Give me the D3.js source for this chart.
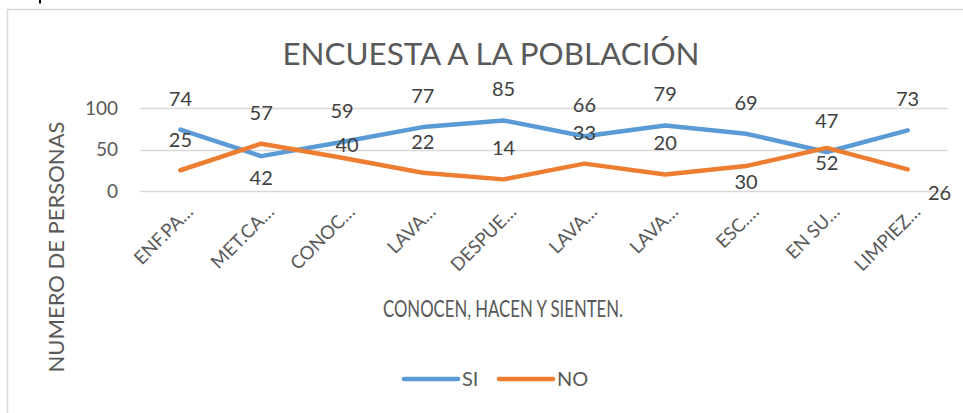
<!DOCTYPE html>
<html>
<head>
<meta charset="utf-8">
<script src="https://cdn.jsdelivr.net/npm/d3@7"></script>
<style>
  body { margin: 0; background: #fff; }
  svg { display: block; font-family: Lato, "Open Sans", sans-serif; }
</style>
</head>
<body>
<div class="chart"></div>
<script>
// chart data
let categories = ['ENF.PA…', 'MET.CA…', 'CONOC…', 'LAVA…', 'DESPUE…', 'LAVA…', 'LAVA…', 'ESC.…', 'EN SU…', 'LIMPIEZ…'];
let siValues = [74, 42, 59, 77, 85, 66, 79, 69, 47, 73];
let noValues = [25, 57, 40, 22, 14, 33, 20, 30, 52, 26];
let yTicks = [0, 50, 100];
let seriesNames = ['SI', 'NO'];

// label placement (style only): offsets from the point
let siLabelOffset = [[0, -31], [0, 22], [0, -31], [0, -31], [0, -31], [0, -31], [0, -31], [0, -31], [0, -31], [0, -31]];
let noLabelOffset = [[0, -30], [0, -31], [5, -13], [0, -31], [0, -31], [0, -31], [0, -31], [0, 16], [0, 15], [32, 24]];

function drawLineChart(d3) {
  let width = 963;
  let height = 413;
  let textColor = '#595959';
  let colors = {SI: '#5b9bd5', NO: '#ed7d31'};

  let svg = d3.select('.chart')
    .append('svg')
    .attr('width', width)
    .attr('height', height);

  // bit of a glyph from the page above the chart
  svg.append('rect')
    .attr('x', 39)
    .attr('y', 0)
    .attr('width', 2)
    .attr('height', 3.5)
    .attr('fill', '#000');

  // chart border
  svg.append('rect')
    .attr('x', 7.5)
    .attr('y', 9.5)
    .attr('width', 1000)
    .attr('height', 600)
    .attr('fill', 'none')
    .attr('stroke', '#d9d9d9')
    .attr('stroke-width', 1.5);

  let xScale = d3.scaleBand()
    .range([140, 948])
    .domain(categories.map(function(d, i) { return i; }));

  let yScale = d3.scaleLinear()
    .range([191, 108])
    .domain([0, 100]);

  let xc = function(i) { return xScale(i) + xScale.bandwidth() / 2; };

  // gridlines
  svg.append('g')
    .selectAll('line')
    .data(yTicks)
    .enter().append('line')
    .attr('x1', 140)
    .attr('x2', 948)
    .attr('y1', function(d) { return Math.round(yScale(d)) + 0.5; })
    .attr('y2', function(d) { return Math.round(yScale(d)) + 0.5; })
    .attr('stroke', '#d9d9d9')
    .attr('stroke-width', 1.5);

  // y axis
  let yAxis = svg.append('g')
    .attr('transform', 'translate(140, 0)')
    .call(d3.axisLeft(yScale).tickValues(yTicks).tickSize(0).tickPadding(22));
  yAxis.select('.domain').remove();
  yAxis.selectAll('text')
    .attr('font-family', 'Lato, sans-serif')
    .attr('font-size', 19)
    .attr('fill', textColor);

  // x axis labels
  let xAxis = svg.append('g')
    .attr('transform', 'translate(0, 191)')
    .call(d3.axisBottom(xScale).tickSize(0).tickFormat(function(i) { return categories[i]; }));
  xAxis.select('.domain').remove();
  xAxis.selectAll('text')
    .attr('font-family', 'Lato, sans-serif')
    .attr('font-size', 18.5)
    .attr('fill', textColor)
    .attr('text-anchor', 'end')
    .attr('dy', 0)
    .attr('y', 0)
    .attr('transform', 'translate(14, 22) rotate(-45)');

  // lines
  let line = d3.line()
    .x(function(d, i) { return xc(i); })
    .y(function(d) { return yScale(d); });

  let series = [
    {name: 'SI', values: siValues, offset: siLabelOffset},
    {name: 'NO', values: noValues, offset: noLabelOffset}
  ];

  series.forEach(function(s) {
    svg.append('path')
      .datum(s.values)
      .attr('d', line)
      .attr('fill', 'none')
      .attr('stroke', colors[s.name])
      .attr('stroke-width', 4.5)
      .attr('stroke-linejoin', 'round')
      .attr('stroke-linecap', 'round');
  });

  // data labels
  series.forEach(function(s) {
    svg.append('g')
      .selectAll('text')
      .data(s.values)
      .enter().append('text')
      .attr('x', function(d, i) { return xc(i) + s.offset[i][0]; })
      .attr('y', function(d, i) { return yScale(d) + s.offset[i][1]; })
      .attr('dy', '0.35em')
      .attr('text-anchor', 'middle')
      .attr('font-size', 20)
      .attr('fill', '#404040')
      .text(function(d) { return d; });
  });

  // title
  svg.append('text')
    .attr('x', 491)
    .attr('y', 65)
    .attr('text-anchor', 'middle')
    .attr('font-size', 31)
    .attr('textLength', 417)
    .attr('lengthAdjust', 'spacingAndGlyphs')
    .attr('fill', textColor)
    .text('ENCUESTA A LA POBLACIÓN');

  // axis titles
  svg.append('text')
    .attr('x', 503)
    .attr('y', 317)
    .attr('text-anchor', 'middle')
    .attr('font-size', 23)
    .attr('textLength', 240)
    .attr('lengthAdjust', 'spacingAndGlyphs')
    .attr('fill', textColor)
    .text('CONOCEN, HACEN Y SIENTEN.');

  svg.append('text')
    .attr('transform', 'translate(64, 247) rotate(-90)')
    .attr('text-anchor', 'middle')
    .attr('font-size', 22)
    .attr('fill', textColor)
    .text('NUMERO DE PERSONAS');

  // legend
  let legend = svg.append('g')
    .selectAll('g')
    .data(seriesNames)
    .enter().append('g')
    .attr('transform', function(d, i) { return 'translate(' + (404 + i * 95) + ', 379)'; });

  legend.append('line')
    .attr('x1', 0)
    .attr('x2', 54)
    .attr('stroke', function(d) { return colors[d]; })
    .attr('stroke-width', 4.5)
    .attr('stroke-linecap', 'round');

  legend.append('text')
    .attr('x', 58)
    .attr('y', 7)
    .attr('font-size', 20)
    .attr('fill', textColor)
    .text(function(d) { return d; });
}

drawLineChart(d3);
</script>
</body>
</html>
